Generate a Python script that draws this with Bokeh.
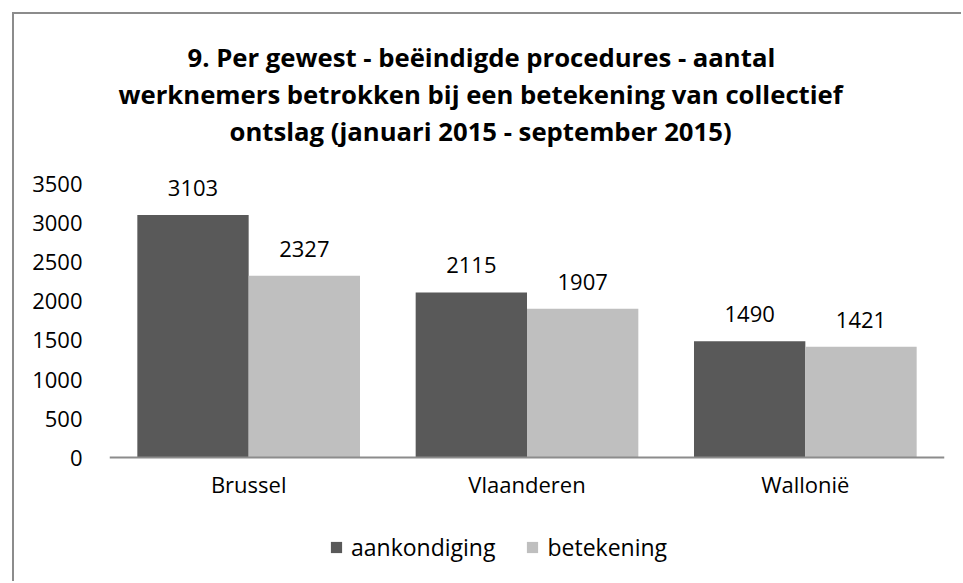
from bokeh.plotting import figure
from bokeh.models import (FactorRange, Range1d, FixedTicker, Legend, LegendItem,
                          ColumnDataSource, LabelSet, Title)
from bokeh.transform import dodge
from bokeh.core.properties import value
from bokeh.embed import file_html
from bokeh.resources import INLINE

categories = ["Brussel", "Vlaanderen", "Wallonië"]
aankondiging = [3103, 2115, 1490]
betekening = [2327, 1907, 1421]
series_names = ["aankondiging", "betekening"]
y_ticks = [0, 500, 1000, 1500, 2000, 2500, 3000, 3500]
title_lines = ["9. Per gewest - beëindigde procedures - aantal",
               "werknemers betrokken bij een betekening van collectief",
               "ontslag (januari 2015 - september 2015)"]

DARK = "#595959"
LIGHT = "#bfbfbf"
FONT = "Open Sans"
GRAY = "#8c8c8c"

src = ColumnDataSource(dict(cat=categories, a=aankondiging, b=betekening,
                            al=[str(v) for v in aankondiging],
                            bl=[str(v) for v in betekening]))

grad = f"linear-gradient({GRAY},{GRAY})"
p = figure(x_range=FactorRange(*categories, range_padding=0),
           y_range=Range1d(-1582, 3712),
           width=961, height=581, output_backend="svg", toolbar_location=None,
           min_border_left=109, min_border_right=17, min_border_top=167,
           min_border_bottom=0,
           styles={"background": f"{grad} 12px 12px / 2px 100% no-repeat, "
                                 f"{grad} 12px 12px / 100% 2px no-repeat, white"})
p.title = None

r1 = p.vbar(x=dodge("cat", -0.2, range=p.x_range), top="a", width=0.4, source=src,
            fill_color=DARK, line_color=None)
r2 = p.vbar(x=dodge("cat", 0.2, range=p.x_range), top="b", width=0.4, source=src,
            fill_color=LIGHT, line_color=None)

for col, off in (("al", -0.2), ("bl", 0.2)):
    ls = LabelSet(x=dodge("cat", off, range=p.x_range), y=col[0], text=col, source=src,
                  text_align="center", text_baseline="alphabetic", y_offset=19,
                  text_font=value(FONT), text_font_size=value("22px"),
                  text_color="#000000")
    p.add_layout(ls)

# spacer between plot and title block
p.add_layout(Title(text=" ", text_font_size="1px", standoff=16), "above")
# titles (added bottom line first), left-aligned with offsets so block is centred
title_offsets = [78, 9, 120]
for txt, off in zip(reversed(title_lines), reversed(title_offsets)):
    p.add_layout(Title(text=txt, align="left", offset=off, text_font=FONT,
                       text_font_style="bold", text_font_size="25.7px",
                       text_color="#000000", standoff=0), "above")

p.grid.visible = False
p.outline_line_color = None
p.background_fill_color = None
p.border_fill_color = None

p.yaxis.ticker = FixedTicker(ticks=y_ticks)
p.yaxis.axis_line_color = None
p.yaxis.major_tick_line_color = None
p.yaxis.minor_tick_line_color = None
p.yaxis.major_label_standoff = 21
p.yaxis.major_label_text_font = FONT
p.yaxis.major_label_text_font_size = "22px"
p.yaxis.major_label_text_color = "#000000"

p.xaxis.fixed_location = 0
p.xaxis.axis_line_color = GRAY
p.xaxis.axis_line_width = 2
p.xaxis.major_tick_line_color = None
p.xaxis.minor_tick_line_color = None
p.xaxis.major_label_standoff = 5
p.xaxis.major_label_text_font = FONT
p.xaxis.major_label_text_font_size = "22px"
p.xaxis.major_label_text_color = "#000000"

legend = Legend(items=[LegendItem(label=series_names[0], renderers=[r1]),
                       LegendItem(label=series_names[1], renderers=[r2])],
                orientation="horizontal", location=(220, 18),
                glyph_width=14, glyph_height=14, label_standoff=8, spacing=30,
                padding=0, margin=0, border_line_color=None, background_fill_alpha=0,
                label_text_font=FONT, label_text_font_size="23px",
                label_text_color="#000000")
p.add_layout(legend, "center")

open("out.html", "w").write(file_html(p, INLINE))
